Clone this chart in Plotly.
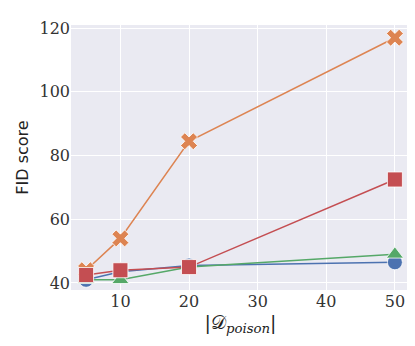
import plotly.graph_objects as go

# ---------- Data ----------
poison_sizes = [5, 10, 20, 50]
fid_blue = [41.0, 43.5, 45.5, 46.5]
fid_orange = [44.0, 54.0, 84.5, 117.0]
fid_green = [41.0, 41.0, 45.0, 49.0]
fid_red = [42.5, 44.0, 45.0, 72.5]

series = [
    ("blue", fid_blue, "#4C72B0", "circle"),
    ("orange", fid_orange, "#DD8452", "x"),
    ("green", fid_green, "#55A868", "triangle-up"),
    ("red", fid_red, "#C44E52", "square"),
]

fig = go.Figure()
for name, ys, color, sym in series:
    fig.add_trace(go.Scatter(
        x=poison_sizes, y=ys, name=name, mode="lines+markers",
        line=dict(color=color, width=1.5),
        marker=dict(symbol=sym, size=15, color=color, line=dict(color="white", width=0.8)),
    ))

# the page body keeps its default 8px margin, so the figure is 8px smaller
serif = "DejaVu Serif"
fig.update_layout(
    width=407, height=338,
    margin=dict(l=63, r=5, t=17, b=56),
    paper_bgcolor="white",
    plot_bgcolor="#EAEAF2",
    showlegend=False,
)
fig.update_xaxes(
    range=[2.8, 52.2],
    tickvals=[10, 20, 30, 40, 50],
    gridcolor="white", gridwidth=1.2, zeroline=False, showline=False,
    automargin=False,
    tickfont=dict(family=serif, size=16, color="#333333"),
    title=dict(text="|𝒟<sub><i>poison</i></sub>|", font=dict(family=serif, size=19, color="#222222"), standoff=2),
)
fig.update_yaxes(
    range=[37.8, 121],
    tickvals=[40, 60, 80, 100, 120],
    gridcolor="white", gridwidth=1.2, zeroline=False, showline=False,
    automargin=False,
    tickfont=dict(family=serif, size=16, color="#333333"),
    title=dict(text="FID score", font=dict(family="DejaVu Sans", size=16, color="#222222"), standoff=6),
)

fig.write_html("out.html")
